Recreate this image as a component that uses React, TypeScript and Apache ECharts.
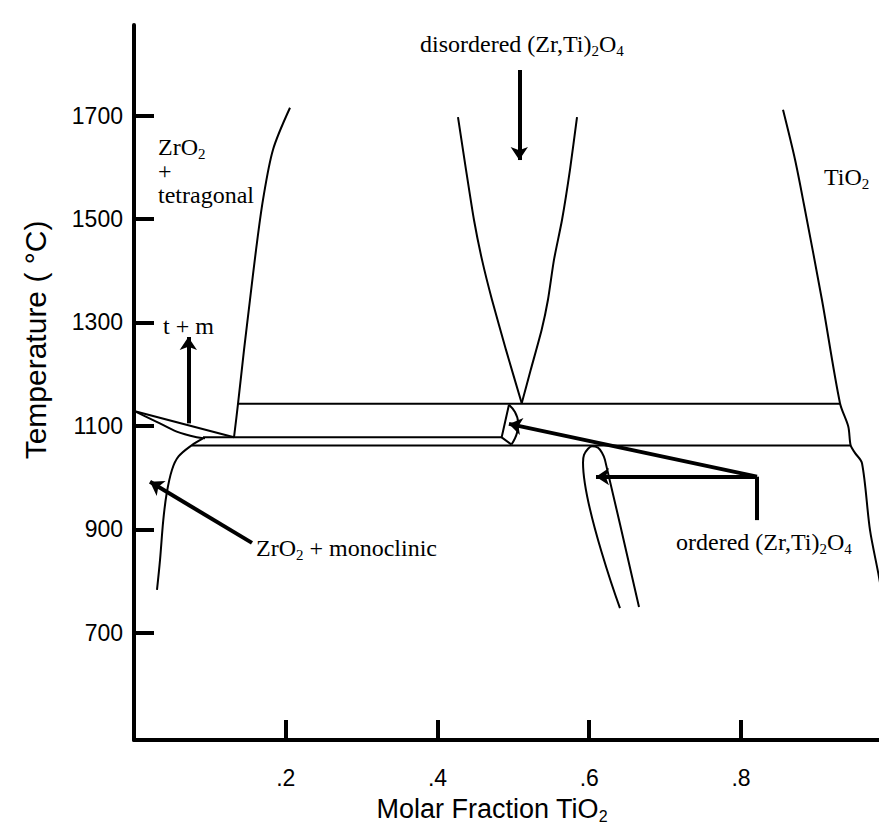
import React, { useEffect, useRef } from "react";
import * as echarts from "echarts";

// ---- Data (x = molar fraction TiO2, y = temperature °C) ----
const xTicks = [0.2, 0.4, 0.6, 0.8];
const yTicks = [700, 900, 1100, 1300, 1500, 1700];

const tetragonalBoundary = [[0.2056, 1715], [0.1832, 1634], [0.17, 1537], [0.1608, 1440], [0.1529, 1344], [0.145, 1247], [0.1371, 1143], [0.1318, 1078]];
const upperTie = [[0.137, 1143], [0.9305, 1143]];
const middleTie = [[0.0909, 1078], [0.4846, 1078]];
const lowerTie = [[0.0764, 1062], [0.945, 1062]];
const lensUpper = [[0, 1129], [0.1318, 1078]];
const lensLower = [[0, 1129], [0.0299, 1108], [0.0563, 1089], [0.0826, 1078], [0.0936, 1076]];
const monoclinicBoundary = [[0.0303, 783], [0.0343, 841], [0.0386, 918], [0.0431, 970], [0.05, 1015], [0.0587, 1041], [0.0764, 1063], [0.0909, 1076]];
const disorderedLeft = [[0.427, 1697], [0.4376, 1595], [0.4481, 1498], [0.4587, 1421], [0.4718, 1344], [0.4903, 1247], [0.511, 1144]];
const disorderedRight = [[0.5839, 1697], [0.5746, 1595], [0.5641, 1498], [0.5535, 1421], [0.5456, 1344], [0.5373, 1286], [0.5228, 1208], [0.511, 1144]];
const capLeft = [[0.4975, 1064], [0.4846, 1078], [0.4942, 1141]];
const capRight = [[0.4942, 1141], [0.5021, 1127], [0.5061, 1108], [0.5048, 1087], [0.4975, 1064]];
const orderedBand = [[0.6405, 748], [0.5918, 1029], [0.5931, 1044], [0.5984, 1056], [0.6036, 1061], [0.6115, 1058], [0.6168, 1048], [0.6208, 1034], [0.6656, 750]];
const tio2Boundary = [[0.8554, 1711], [0.8712, 1615], [0.883, 1528], [0.9067, 1344], [0.9305, 1144], [0.9414, 1099], [0.9446, 1062], [0.9502, 1048], [0.9595, 1028], [0.97, 899], [0.981, 815], [0.9885, 754]];

// Annotation arrows (data coordinates)
const arrowDisordered = [[0.5078, 1788], [0.5078, 1614]];
const arrowTM = [[0.0716, 1105], [0.0716, 1272]];
const arrowMonoclinic = [[0.1555, 874], [0.0211, 992]];
const leaderOrdered = [[0.8211, 918], [0.8211, 1002]];
const arrowOrderedBand = [[0.8211, 1002], [0.6089, 1002]];
const arrowOrderedCap = [[0.8211, 1002], [0.4942, 1104]];

const X_MAX = 0.9819;
const Y_MIN = 493;
const Y_MAX = 1875;

const SERIF = "'Liberation Serif', 'Times New Roman', serif";
const SANS = "'Liberation Sans', Arial, sans-serif";

function curve(name: string, data: number[][], smooth: number | boolean = false, width = 2) {
  return {
    name,
    type: "line",
    data,
    smooth,
    showSymbol: false,
    symbol: "none",
    lineStyle: { color: "#000", width },
    silent: true,
    z: 3,
  };
}

function arrow(name: string, coords: number[][]) {
  return {
    name,
    type: "lines",
    coordinateSystem: "cartesian2d",
    symbol: ["none", "arrow"],
    symbolSize: 13,
    lineStyle: { color: "#000", width: 4, opacity: 1, curveness: 0 },
    itemStyle: { color: "#000" },
    data: [{ coords }],
    silent: true,
    z: 4,
  };
}

const FS = 24;
const richSerif = {
  n: { fontFamily: SERIF, fontSize: FS, color: "#000", lineHeight: 24, verticalAlign: "middle" },
  s: { fontFamily: SERIF, fontSize: 15, color: "#000", lineHeight: 10, padding: [14, 0, 0, 0], verticalAlign: "middle" },
};

function label(x: number, y: number, text: string, align = "left") {
  return {
    type: "text",
    x,
    y,
    style: {
      text,
      rich: richSerif,
      align,
      verticalAlign: "middle",
      fill: "#000",
      font: `${FS}px ${SERIF}`,
    },
    silent: true,
  };
}

export default function App() {
  const ref = useRef<HTMLDivElement>(null);
  useEffect(() => {
    document.body.style.margin = "0";
    if (!ref.current) return;
    const chart = echarts.init(ref.current, undefined, { renderer: "svg" });
    chart.setOption({
      animation: false,
      backgroundColor: "#fff",
      grid: { left: 134, right: 0, top: 25, bottom: 87, containLabel: false },
      xAxis: {
        type: "value",
        min: 0,
        max: X_MAX,
        axisLine: { show: true, onZero: false, lineStyle: { color: "#000", width: 4 } },
        axisTick: { show: true, inside: true, length: 20, customValues: xTicks, lineStyle: { color: "#000", width: 4 } },
        axisLabel: {
          customValues: xTicks,
          formatter: (v: number) => "." + Math.round(v * 10),
          fontFamily: SANS,
          fontSize: 23,
          color: "#000",
          margin: 26,
        },
        splitLine: { show: false },
      },
      yAxis: {
        type: "value",
        min: Y_MIN,
        max: Y_MAX,
        axisLine: { show: true, onZero: false, lineStyle: { color: "#000", width: 4 } },
        axisTick: { show: true, inside: true, length: 20, customValues: yTicks, lineStyle: { color: "#000", width: 4 } },
        axisLabel: {
          customValues: yTicks,
          formatter: (v: number) => String(v),
          fontFamily: SANS,
          fontSize: 23,
          color: "#000",
          margin: 11,
        },
        splitLine: { show: false },
      },
      series: [
        curve("tetragonal boundary", tetragonalBoundary, 0.3),
        curve("upper tie", upperTie),
        curve("middle tie", middleTie),
        curve("lower tie", lowerTie),
        curve("lens upper", lensUpper),
        curve("lens lower", lensLower, 0.3),
        curve("monoclinic boundary", monoclinicBoundary, 0.35),
        curve("disordered left", disorderedLeft, 0.2),
        curve("disordered right", disorderedRight, 0.2),
        curve("cap left", capLeft),
        curve("cap right", capRight, 0.4),
        curve("ordered band", orderedBand, 0.3),
        curve("TiO2 boundary", tio2Boundary, 0.3),
        curve("ordered leader", leaderOrdered, false, 4),
        arrow("arrow disordered", arrowDisordered),
        arrow("arrow t+m", arrowTM),
        arrow("arrow monoclinic", arrowMonoclinic),
        arrow("arrow ordered band", arrowOrderedBand),
        arrow("arrow ordered cap", arrowOrderedCap),
      ],
      graphic: [
        label(158, 147, "{n|ZrO}{s|2}"),
        label(158, 171, "{n|+}"),
        label(158, 195, "{n|tetragonal}"),
        label(824, 177, "{n|TiO}{s|2}"),
        label(420, 44, "{n|disordered (Zr,Ti)}{s|2}{n|O}{s|4}"),
        label(163, 326, "{n|t + m}"),
        label(256, 548, "{n|ZrO}{s|2}{n| + monoclinic}"),
        label(676, 542, "{n|ordered (Zr,Ti)}{s|2}{n|O}{s|4}"),
        {
          type: "text",
          x: 492,
          y: 809,
          style: {
            text: "{a|Molar Fraction TiO}{b|2}",
            rich: {
              a: { fontFamily: SANS, fontSize: 27, color: "#000", lineHeight: 26, verticalAlign: "middle" },
              b: { fontFamily: SANS, fontSize: 16, color: "#000", lineHeight: 12, padding: [14, 0, 0, 0], verticalAlign: "middle" },
            },
            align: "center",
            verticalAlign: "middle",
            font: `27px ${SANS}`,
          },
        },
        {
          type: "text",
          x: 35,
          y: 340,
          rotation: Math.PI / 2,
          style: {
            text: "Temperature ( °C)",
            font: `30px ${SANS}`,
            fill: "#000",
            align: "center",
            verticalAlign: "middle",
          },
        },
      ],
    });
    return () => chart.dispose();
  }, []);
  return <div ref={ref} style={{ width: 879, height: 827 }} />;
}
